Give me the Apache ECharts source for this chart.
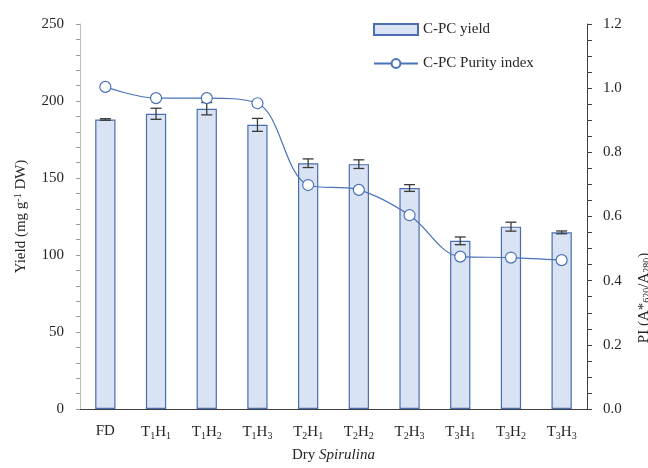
<!DOCTYPE html>
<html>
<head>
<meta charset="utf-8">
<script src="https://cdn.jsdelivr.net/npm/echarts@6/dist/echarts.min.js"></script>
<style>html,body{margin:0;padding:0;background:#fff}#c{width:648px;height:468px}</style>
</head>
<body>
<div id="c"></div>
<script>
const categories = ['FD', 'T1H1', 'T1H2', 'T1H3', 'T2H1', 'T2H2', 'T2H3', 'T3H1', 'T3H2', 'T3H3'];
const categoryLabels = ['{a|FD}', '{a|T}{s|1}{a|H}{s|1}', '{a|T}{s|1}{a|H}{s|2}', '{a|T}{s|1}{a|H}{s|3}',
  '{a|T}{s|2}{a|H}{s|1}', '{a|T}{s|2}{a|H}{s|2}', '{a|T}{s|2}{a|H}{s|3}',
  '{a|T}{s|3}{a|H}{s|1}', '{a|T}{s|3}{a|H}{s|2}', '{a|T}{s|3}{a|H}{s|3}'];
const yieldValues = [188.0, 191.7, 195.0, 184.5, 159.6, 159.0, 143.5, 109.2, 118.4, 114.7];
const yieldErrors = [0.5, 3.6, 4.0, 4.2, 2.8, 2.8, 2.2, 2.5, 2.9, 0.9];
const purityValues = [1.004, 0.969, 0.969, 0.953, 0.698, 0.683, 0.604, 0.475, 0.472, 0.464];
const leftTicks = [0, 50, 100, 150, 200, 250];
const rightTicks = [0.0, 0.2, 0.4, 0.6, 0.8, 1.0, 1.2];

const FONT = 'Liberation Serif';
const TXT = '#262626';
const chart = echarts.init(document.getElementById('c'), null, {renderer: 'canvas'});

const option = {
  animation: false,
  textStyle: {fontFamily: FONT},
  grid: {left: 80, right: 61, top: 24, bottom: 54, containLabel: false},
  legend: {
    orient: 'vertical', left: 368, top: 17, itemWidth: 44, itemHeight: 11, itemGap: 19,
    textStyle: {fontFamily: FONT, fontSize: 15, color: TXT},
    data: [{name: 'C-PC yield', icon: 'rect'}, {name: 'C-PC Purity index'}]
  },
  xAxis: {
    type: 'category', data: categories, boundaryGap: true,
    axisLine: {lineStyle: {color: '#404040', width: 1}},
    axisTick: {alignWithLabel: true, length: 4, lineStyle: {color: '#8c8c8c'}},
    axisLabel: {
      margin: 15, color: TXT, interval: 0,
      formatter: (v, i) => categoryLabels[i],
      rich: {
        a: {fontFamily: FONT, fontSize: 15, color: TXT},
        s: {fontFamily: FONT, fontSize: 10, color: TXT, padding: [7, 0, 0, 0]}
      }
    },
    name: '{a|Dry }{i|Spirulina}', nameLocation: 'middle', nameGap: 39,
    nameTextStyle: {
      rich: {
        a: {fontFamily: FONT, fontSize: 15, color: TXT},
        i: {fontFamily: FONT, fontSize: 15, color: TXT, fontStyle: 'italic'}
      }
    }
  },
  yAxis: [
    {
      type: 'value', min: 0, max: 250, interval: 50, position: 'left',
      splitLine: {show: false},
      axisLine: {show: true, lineStyle: {color: '#bfbfbf'}},
      axisTick: {show: true, length: 4, lineStyle: {color: '#9a9a9a'}},
      minorTick: {show: true, splitNumber: 5, length: 4, lineStyle: {color: '#9a9a9a'}},
      axisLabel: {margin: 16, color: TXT, fontFamily: FONT, fontSize: 15,
        formatter: v => leftTicks.includes(v) ? String(v) : ''},
      name: '{a|Yield (mg g}{s|-1}{a| DW)}', nameLocation: 'middle', nameGap: 50, nameRotate: 90,
      nameTextStyle: {
        rich: {
          a: {fontFamily: FONT, fontSize: 15, color: TXT},
          s: {fontFamily: FONT, fontSize: 10, color: TXT, padding: [0, 0, 7, 0]}
        }
      }
    },
    {
      type: 'value', min: 0, max: 1.2, interval: 0.2, position: 'right',
      splitLine: {show: false},
      axisLine: {show: true, lineStyle: {color: '#404040'}},
      axisTick: {show: true, length: 5, lineStyle: {color: '#404040'}},
      minorTick: {show: true, splitNumber: 4, length: 5, lineStyle: {color: '#404040'}},
      axisLabel: {margin: 16, color: TXT, fontFamily: FONT, fontSize: 15,
        formatter: v => {
          const m = rightTicks.find(t => Math.abs(t - v) < 1e-6);
          return m === undefined ? '' : m.toFixed(1);
        }}
    }
  ],
  graphic: [{
    type: 'text', x: 644, y: 298, rotation: Math.PI / 2, z: 100,
    style: {
      text: '{a|PI (A*}{s|620}{a|/A}{s|280}{a|)}',
      align: 'center', verticalAlign: 'middle',
      rich: {
        a: {fontFamily: FONT, fontSize: 15, fill: TXT},
        s: {fontFamily: FONT, fontSize: 10, fill: TXT, padding: [7, 0, 0, 0]}
      }
    }
  }],
  series: [
    {
      name: 'C-PC yield', type: 'bar', data: yieldValues, yAxisIndex: 0, barWidth: '40%',
      itemStyle: {color: '#dae3f3', borderColor: '#4a6eb0', borderWidth: 1.2},
      z: 2
    },
    {
      name: 'errors', type: 'custom', yAxisIndex: 0, z: 3,
      data: yieldValues.map((v, i) => [i, v, yieldErrors[i]]),
      renderItem: function (params, api) {
        const x = api.value(0), y = api.value(1), e = api.value(2);
        const top = api.coord([x, y + e]);
        const bot = api.coord([x, y - e]);
        const hw = 5.5;
        const st = {stroke: '#3a3a3a', lineWidth: 1.3};
        return {
          type: 'group', children: [
            {type: 'line', shape: {x1: top[0], y1: top[1], x2: bot[0], y2: bot[1]}, style: st},
            {type: 'line', shape: {x1: top[0] - hw, y1: top[1], x2: top[0] + hw, y2: top[1]}, style: st},
            {type: 'line', shape: {x1: bot[0] - hw, y1: bot[1], x2: bot[0] + hw, y2: bot[1]}, style: st}
          ]
        };
      }
    },
    {
      name: 'C-PC Purity index', type: 'line', data: purityValues, yAxisIndex: 1, smooth: 0.35,
      symbol: 'circle', symbolSize: 11, z: 5,
      lineStyle: {color: '#4a72b8', width: 1.2},
      itemStyle: {color: '#ffffff', borderColor: '#4a72b8', borderWidth: 1.2}
    }
  ]
};
chart.setOption(option);
</script>
</body>
</html>
